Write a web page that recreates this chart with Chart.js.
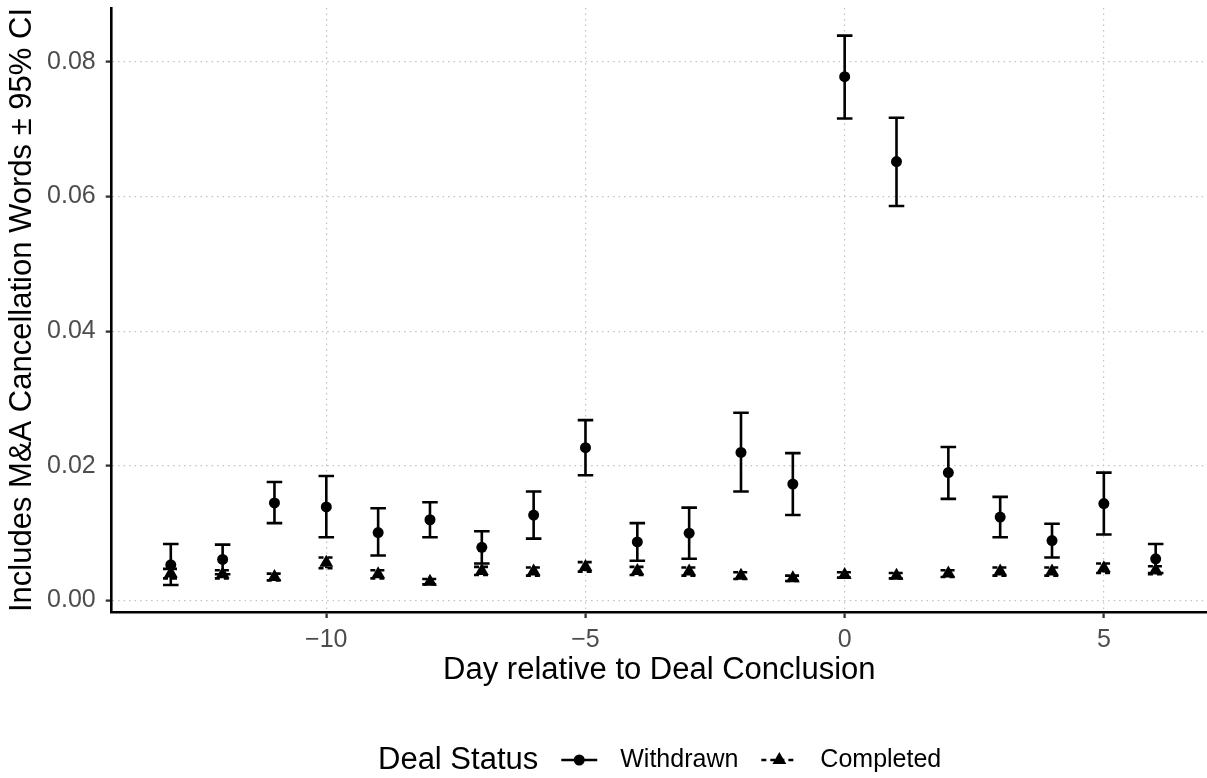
<!DOCTYPE html>
<html>
<head>
<meta charset="utf-8">
<script src="https://cdn.jsdelivr.net/npm/chart.js@4.4.1/dist/chart.umd.min.js"></script>
<style>
  html, body { margin: 0; padding: 0; background: #ffffff; }
  #wrap { width: 1207px; height: 778px; position: relative; }
</style>
</head>
<body>
<div id="wrap"><canvas id="c" width="1207" height="778"></canvas></div>
<script>
// ---- data ----
const days = [-13, -12, -11, -10, -9, -8, -7, -6, -5, -4, -3, -2, -1, 0, 1, 2, 3, 4, 5, 6];
const withdrawnMean = [0.0053, 0.0061, 0.0145, 0.0139, 0.0101, 0.0120, 0.0079, 0.0127, 0.0227, 0.0087, 0.0100, 0.0220, 0.0173, 0.0778, 0.0652, 0.0190, 0.0124, 0.0089, 0.0144, 0.0062];
const withdrawnLow  = [0.0023, 0.0039, 0.0115, 0.0094, 0.0067, 0.0094, 0.0055, 0.0092, 0.0186, 0.0059, 0.0062, 0.0162, 0.0127, 0.0716, 0.0586, 0.0151, 0.0094, 0.0064, 0.0098, 0.0041];
const withdrawnHigh = [0.0084, 0.0083, 0.0176, 0.0185, 0.0137, 0.0146, 0.0103, 0.0162, 0.0268, 0.0115, 0.0138, 0.0279, 0.0219, 0.0839, 0.0717, 0.0228, 0.0154, 0.0114, 0.0190, 0.0084];
const completedMean = [0.0040, 0.0039, 0.0035, 0.0056, 0.0039, 0.0028, 0.0044, 0.0043, 0.0050, 0.0044, 0.0043, 0.0037, 0.0033, 0.0038, 0.0037, 0.0040, 0.0043, 0.0043, 0.0048, 0.0045];
const completedLow  = [0.0033, 0.0033, 0.0030, 0.0048, 0.0033, 0.0024, 0.0038, 0.0037, 0.0043, 0.0038, 0.0037, 0.0032, 0.0029, 0.0034, 0.0033, 0.0035, 0.0037, 0.0037, 0.0041, 0.0039];
const completedHigh = [0.0047, 0.0045, 0.0040, 0.0064, 0.0045, 0.0032, 0.0050, 0.0049, 0.0057, 0.0050, 0.0049, 0.0042, 0.0037, 0.0042, 0.0041, 0.0045, 0.0049, 0.0049, 0.0055, 0.0051];
const xTicks = [-10, -5, 0, 5];
const yTicks = [0.00, 0.02, 0.04, 0.06, 0.08];
const seriesNames = ['Withdrawn', 'Completed'];
const legendTitle = 'Deal Status';
const xTitle = 'Day relative to Deal Conclusion';
const yTitle = 'Includes M&A Cancellation Words \u00B1 95% CI';

const FONT = '"Liberation Sans", Arial, Helvetica, sans-serif';

const errorBars = [
  { low: withdrawnLow, high: withdrawnHigh, dash: [] },
  { low: completedLow, high: completedHigh, dash: [5, 4] }
];

const errorBarPlugin = {
  id: 'errorBars',
  beforeDatasetsDraw(chart) {
    const ctx = chart.ctx;
    const xs = chart.scales.x, ys = chart.scales.y;
    ctx.save();
    ctx.strokeStyle = '#000';
    ctx.lineWidth = 2.6;
    ctx.lineCap = 'butt';
    errorBars.forEach(eb => {
      ctx.setLineDash(eb.dash);
      days.forEach((d, i) => {
        const x = xs.getPixelForValue(d);
        const xl = xs.getPixelForValue(d - 0.15);
        const xr = xs.getPixelForValue(d + 0.15);
        const yl = ys.getPixelForValue(eb.low[i]);
        const yh = ys.getPixelForValue(eb.high[i]);
        ctx.beginPath();
        ctx.moveTo(xl, yh); ctx.lineTo(xr, yh);
        ctx.moveTo(x, yh); ctx.lineTo(x, yl);
        ctx.moveTo(xl, yl); ctx.lineTo(xr, yl);
        ctx.stroke();
      });
    });
    ctx.restore();
  }
};

const legendPlugin = {
  id: 'customLegend',
  afterDraw(chart) {
    const ctx = chart.ctx;
    ctx.save();
    const cy = 760;
    let x = 378;
    const gap = 18, keyW = 46;
    ctx.fillStyle = '#000';
    ctx.textBaseline = 'middle';
    ctx.textAlign = 'left';
    ctx.font = '31px ' + FONT;
    ctx.fillText(legendTitle, x, cy);
    x += ctx.measureText(legendTitle).width + gap;
    ctx.font = '25px ' + FONT;
    // Withdrawn key
    ctx.strokeStyle = '#000';
    ctx.lineWidth = 2.6;
    ctx.setLineDash([]);
    ctx.beginPath(); ctx.moveTo(x + 5, cy); ctx.lineTo(x + keyW - 5, cy); ctx.stroke();
    ctx.beginPath(); ctx.arc(x + keyW / 2, cy, 5.5, 0, Math.PI * 2); ctx.fill();
    x += keyW + gap;
    ctx.fillText(seriesNames[0], x, cy);
    x += ctx.measureText(seriesNames[0]).width + gap;
    // Completed key
    ctx.setLineDash([5, 4]);
    ctx.beginPath(); ctx.moveTo(x + 5, cy); ctx.lineTo(x + keyW - 5, cy); ctx.stroke();
    ctx.setLineDash([]);
    const tx = x + keyW / 2, r = 8;
    ctx.beginPath();
    ctx.moveTo(tx, cy - r);
    ctx.lineTo(tx + r * 0.866, cy + r * 0.5);
    ctx.lineTo(tx - r * 0.866, cy + r * 0.5);
    ctx.closePath(); ctx.fill();
    x += keyW + gap;
    ctx.fillText(seriesNames[1], x, cy);
    ctx.restore();
  }
};

const ctx = document.getElementById('c').getContext('2d');
new Chart(ctx, {
  type: 'scatter',
  data: {
    datasets: [
      {
        label: seriesNames[0],
        data: days.map((d, i) => ({ x: d, y: withdrawnMean[i] })),
        pointStyle: 'circle', pointRadius: 5.5, pointBorderWidth: 0,
        backgroundColor: '#000', borderColor: '#000', showLine: false
      },
      {
        label: seriesNames[1],
        data: days.map((d, i) => ({ x: d, y: completedMean[i] })),
        pointStyle: 'triangle', pointRadius: 8, pointBorderWidth: 0,
        backgroundColor: '#000', borderColor: '#000', showLine: false
      }
    ]
  },
  options: {
    responsive: false,
    animation: false,
    devicePixelRatio: 1,
    layout: { autoPadding: false, padding: { top: 8, right: 0, bottom: 89, left: 0 } },
    plugins: { legend: { display: false }, tooltip: { enabled: false } },
    scales: {
      x: {
        type: 'linear', min: -14.14, max: 6.99,
        afterBuildTicks: s => { s.ticks = xTicks.map(v => ({ value: v })); },
        afterFit: s => { s.height = 77; s.paddingLeft = 0; s.paddingRight = 0; },
        ticks: {
          color: '#4D4D4D', font: { family: FONT, size: 25 }, padding: 7,
          maxRotation: 0, autoSkip: false,
          callback: v => (v < 0 ? '\u2212' + Math.abs(v) : String(v))
        },
        grid: { color: '#C2C2C2', lineWidth: 1.2, tickColor: '#333333', tickLength: 6, tickWidth: 2.3, tickBorderDash: [] },
        border: { display: true, color: '#000', width: 2.6, dash: [1.5, 4] },
        title: { display: true, text: xTitle, color: '#000', font: { family: FONT, size: 31 }, padding: 0 }
      },
      y: {
        type: 'linear', min: -0.0017, max: 0.0880,
        afterBuildTicks: s => { s.ticks = yTicks.map(v => ({ value: v })); },
        afterFit: s => { s.width = 111.7; s.paddingTop = 0; s.paddingBottom = 0; },
        ticks: {
          color: '#4D4D4D', font: { family: FONT, size: 25 }, padding: 10,
          callback: v => v.toFixed(2)
        },
        grid: { color: '#C2C2C2', lineWidth: 1.2, tickColor: '#333333', tickLength: 6, tickWidth: 2.3, tickBorderDash: [] },
        border: { display: true, color: '#000', width: 2.6, dash: [1.5, 4] },
        title: { display: true, text: yTitle, color: '#000', font: { family: FONT, size: 31 }, padding: { top: 4, bottom: 0 } }
      }
    }
  },
  plugins: [errorBarPlugin, legendPlugin]
});
</script>
</body>
</html>
